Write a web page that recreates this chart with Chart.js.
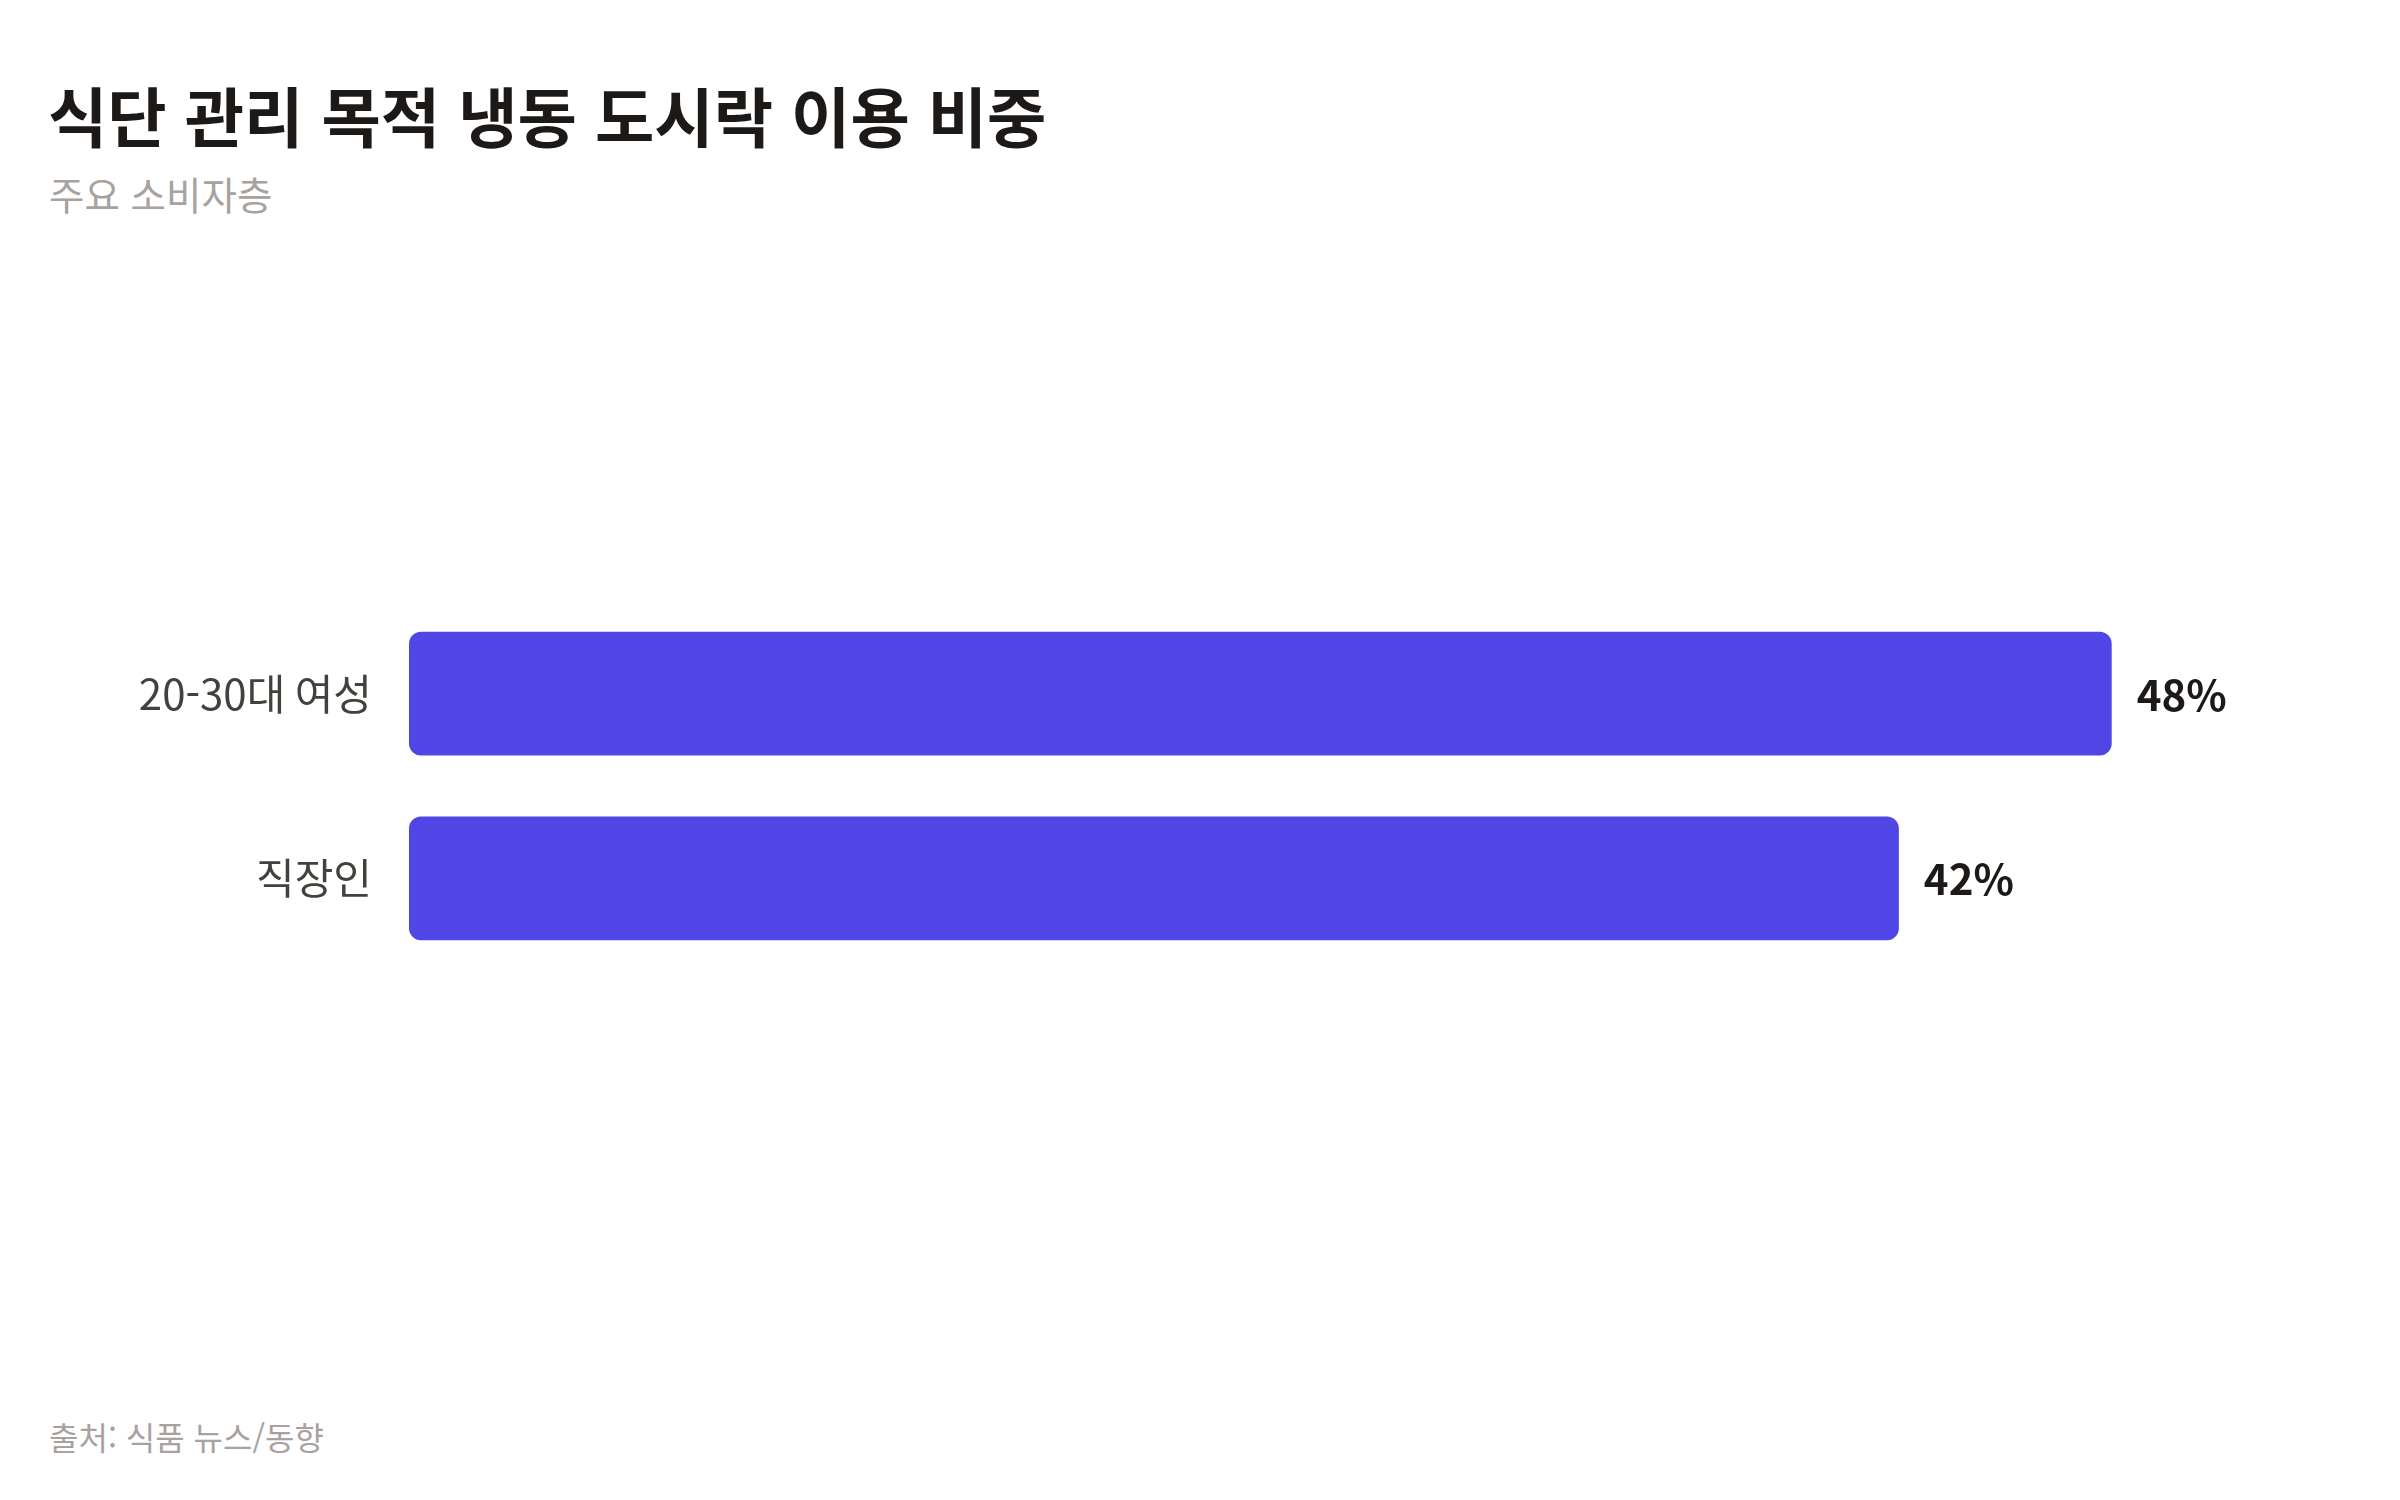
<!DOCTYPE html>
<html lang="ko">
  <head>
    <meta charset="UTF-8" />
    <title>식단 관리 목적 냉동 도시락 이용 비중</title>
    <script src="https://cdn.jsdelivr.net/npm/chart.js"></script>
    <style>
      html, body { margin: 0; padding: 0; background: #ffffff; }
      body { width: 2400px; height: 1500px; position: relative; overflow: hidden;
             font-family: "Noto Sans CJK KR", "Noto Sans", sans-serif; }
      #title { position: absolute; left: 48px; top: 76px; margin: 0;
               font-size: 64.5px; line-height: 1.2; font-weight: 700; color: #1c1917; }
      #subtitle { position: absolute; left: 49px; top: 170px; margin: 0;
                  font-size: 38.5px; line-height: 1.2; font-weight: 400; color: #a8a29e; }
      #source { position: absolute; left: 49px; top: 1417px; margin: 0;
                font-size: 32px; line-height: 1.2; font-weight: 400; color: #a8a29e; }
      /* 세로 축 눈금 padding(37 + 라벨 높이/2)이 위아래로 들어가므로 그만큼 키움 */
      #chart-box { position: absolute; left: 0; top: 539px; width: 2400px; height: 494px; }
      #bar-chart { display: block; width: 2400px; height: 494px; }
    </style>
  </head>
  <body>
    <h1 id="title">식단 관리 목적 냉동 도시락 이용 비중</h1>
    <p id="subtitle">주요 소비자층</p>
    <div id="chart-box"><canvas id="bar-chart" width="2400" height="494"></canvas></div>
    <p id="source">출처: 식품 뉴스/동향</p>
    <script>
      // 카테고리와 값 (%)
      const categories = ["20-30대 여성", "직장인"];
      const shares = [48, 42];
      const axisMax = 55;

      // 막대 끝에 값 표시
      const valueLabels = {
        id: "valueLabels",
        afterDatasetsDraw(chart) {
          const ctx = chart.ctx;
          const meta = chart.getDatasetMeta(0);
          ctx.save();
          ctx.font = "700 42px 'Noto Sans CJK KR'";
          ctx.fillStyle = "#1c1917";
          ctx.textAlign = "left";
          ctx.textBaseline = "middle";
          meta.data.forEach((bar, i) => {
            ctx.fillText(shares[i] + "%", bar.x + 25, bar.y + 1);
          });
          ctx.restore();
        },
      };

      const ctx = document.getElementById("bar-chart").getContext("2d");
      new Chart(ctx, {
        type: "bar",
        data: {
          labels: categories,
          datasets: [
            {
              data: shares,
              backgroundColor: "#4f46e5",
              borderRadius: 12,
              borderSkipped: false,
              barPercentage: 0.67,
              categoryPercentage: 1,
            },
          ],
        },
        options: {
          indexAxis: "y",
          responsive: false,
          animation: false,
          layout: { padding: { left: 0, right: 40, top: 0, bottom: 0 } },
          plugins: {
            legend: { display: false },
            tooltip: { enabled: false },
          },
          scales: {
            x: { display: false, min: 0, max: axisMax },
            y: {
              grid: { display: false, drawTicks: false },
              border: { display: false },
              ticks: {
                padding: 37,
                color: "#44403c",
                font: { family: "'Noto Sans CJK KR'", size: 42, weight: "400" },
              },
              afterFit(scale) {
                scale.width = 409;
              },
            },
          },
        },
        plugins: [valueLabels],
      });
    </script>
  </body>
</html>
